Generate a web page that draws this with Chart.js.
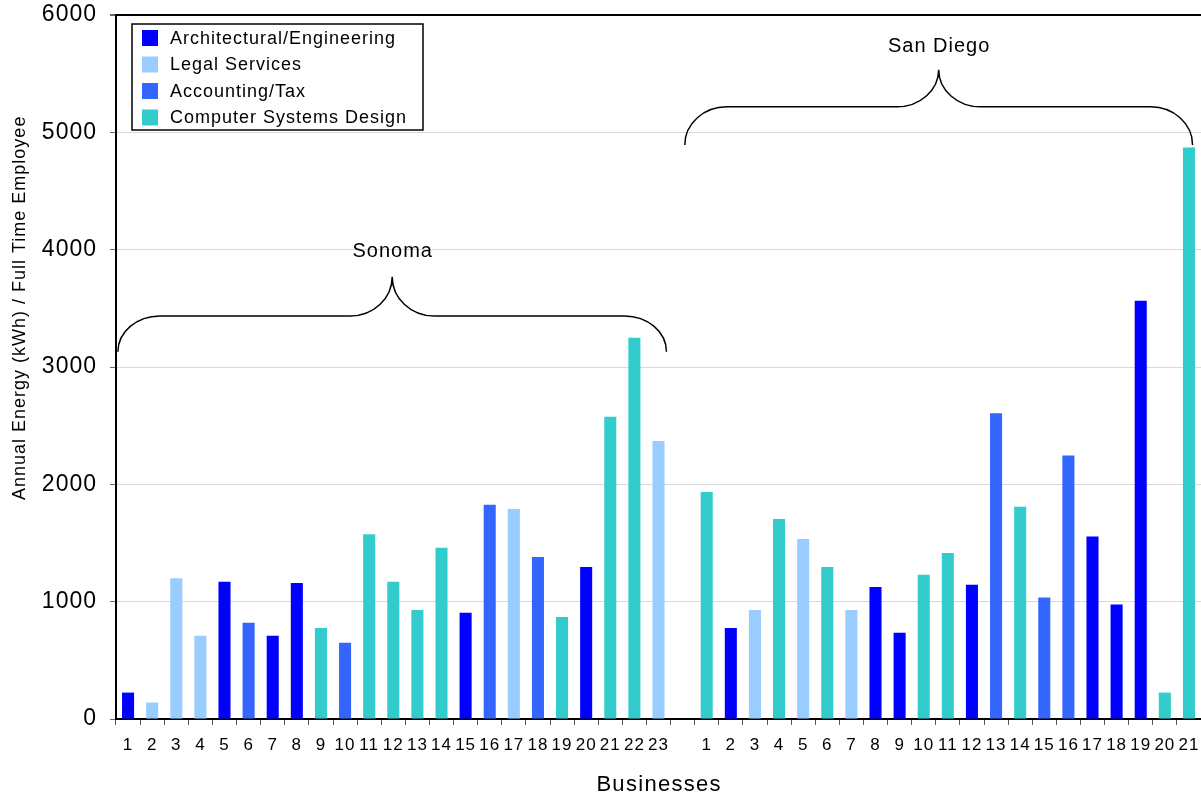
<!DOCTYPE html>
<html>
<head>
<meta charset="utf-8">
<title>Annual Energy per Full Time Employee</title>
<script src="https://cdn.jsdelivr.net/npm/chart.js@4.4.1/dist/chart.umd.min.js"></script>
<style>
  html, body { margin: 0; padding: 0; background: #fff; }
  #chart { display: block; }
</style>
</head>
<body>
<canvas id="chart" width="1201" height="796"></canvas>
<script>
// business types (legend order) and their colours
const businessTypes = ['Architectural/Engineering', 'Legal Services', 'Accounting/Tax', 'Computer Systems Design'];
const typeColors = ['#0000FF', '#99CCFF', '#3366FF', '#33CCCC'];

// Sonoma businesses 1..23
const sonomaLabels = ['1','2','3','4','5','6','7','8','9','10','11','12','13','14','15','16','17','18','19','20','21','22','23'];
const sonomaValues = [225, 140, 1200, 710, 1170, 820, 710, 1160, 775, 650, 1575, 1170, 930, 1460, 905, 1825, 1790, 1380, 870, 1295, 2575, 3250, 2370];
const sonomaTypes = [0, 1, 1, 1, 0, 2, 0, 0, 3, 2, 3, 3, 3, 3, 0, 2, 1, 2, 3, 0, 3, 3, 1];

// San Diego businesses 1..21
const sanDiegoLabels = ['1','2','3','4','5','6','7','8','9','10','11','12','13','14','15','16','17','18','19','20','21'];
const sanDiegoValues = [1935, 775, 930, 1705, 1535, 1295, 930, 1125, 735, 1230, 1415, 1145, 2605, 1810, 1035, 2245, 1555, 975, 3565, 225, 4870];
const sanDiegoTypes = [3, 0, 1, 3, 1, 3, 1, 0, 0, 3, 3, 0, 2, 3, 2, 2, 0, 0, 0, 3, 3];

const yTicks = [0, 1000, 2000, 3000, 4000, 5000, 6000];

// one empty category separates the two regions
const labels = [...sonomaLabels, '', ...sanDiegoLabels];
const allValues = [...sonomaValues, null, ...sanDiegoValues];
const allTypes = [...sonomaTypes, -1, ...sanDiegoTypes];

const datasets = businessTypes.map((name, t) => ({
  label: name,
  data: allValues.map((v, i) => allTypes[i] === t ? v : null),
  backgroundColor: typeColors[t],
  borderWidth: 0,
  grouped: false,
  categoryPercentage: 1,
  barPercentage: 0.5
}));

// region braces (x in category index units, y in data units)
const regionBraces = [
  { text: 'Sonoma', from: -0.42, to: 22.33, bottom: 3130, mid: 3435, peak: 3770, textAt: 3985 },
  { text: 'San Diego', from: 23.09, to: 44.15, bottom: 4893, mid: 5217, peak: 5533, textAt: 5729 }
];

const FONT = 'Liberation Sans, Arial, sans-serif';

function spacedText(ctx, text, x, y, size, spacing) {
  ctx.font = size + 'px ' + FONT;
  ctx.letterSpacing = spacing + 'px';
  const w = ctx.measureText(text).width - spacing;
  ctx.textAlign = 'left';
  ctx.textBaseline = 'middle';
  ctx.fillText(text, x - w / 2, y);
}

const bracePlugin = {
  id: 'braces',
  afterDatasetsDraw(chart) {
    const { ctx, scales: { x, y } } = chart;
    const p0 = x.getPixelForValue(0), p1 = x.getPixelForValue(1);
    const px = v => p0 + (p1 - p0) * v;
    const k = 0.552;
    ctx.save();
    ctx.strokeStyle = '#000';
    ctx.lineWidth = 1.5;
    regionBraces.forEach(b => {
      const x1 = px(b.from), x2 = px(b.to), xc = (x1 + x2) / 2;
      const yB = y.getPixelForValue(b.bottom), yM = y.getPixelForValue(b.mid), yP = y.getPixelForValue(b.peak);
      const r = 42, h1 = yB - yM, h2 = yM - yP;
      ctx.beginPath();
      ctx.moveTo(x1, yB);
      ctx.bezierCurveTo(x1, yB - k * h1, x1 + r * (1 - k), yM, x1 + r, yM);
      ctx.lineTo(xc - r, yM);
      ctx.bezierCurveTo(xc - r + k * r, yM, xc, yP + k * h2, xc, yP);
      ctx.bezierCurveTo(xc, yP + k * h2, xc + r - k * r, yM, xc + r, yM);
      ctx.lineTo(x2 - r, yM);
      ctx.bezierCurveTo(x2 - r * (1 - k), yM, x2, yB - k * h1, x2, yB);
      ctx.stroke();
      ctx.fillStyle = '#000';
      spacedText(ctx, b.text, xc, y.getPixelForValue(b.textAt), 20, 1);
    });
    ctx.restore();
  }
};

const legendBoxPlugin = {
  id: 'legendBox',
  beforeDraw(chart) {
    chart.ctx.letterSpacing = '1px';
  },
  afterDraw(chart) {
    const { ctx, chartArea, scales: { y } } = chart;
    const left = chartArea.left + 16, top = chartArea.top + 9;
    const w = 291, h = 106, row = 26.5;
    ctx.save();
    ctx.fillStyle = '#fff';
    ctx.fillRect(left, top, w, h);
    ctx.strokeStyle = '#000';
    ctx.lineWidth = 1.5;
    ctx.strokeRect(left, top, w, h);
    ctx.font = '18px ' + FONT;
    ctx.letterSpacing = '1px';
    ctx.textBaseline = 'middle';
    ctx.textAlign = 'left';
    chart.data.datasets.forEach((ds, i) => {
      const cy = top + 14 + i * row;
      ctx.fillStyle = ds.backgroundColor;
      ctx.fillRect(left + 10, cy - 8, 16, 16);
      ctx.fillStyle = '#000';
      ctx.fillText(ds.label, left + 38, cy + 1);
    });

    // axis titles
    ctx.fillStyle = '#000';
    spacedText(ctx, 'Businesses', (chartArea.left + chartArea.right) / 2, chartArea.bottom + 66, 22, 1.3);
    ctx.save();
    ctx.translate(20, y.getPixelForValue(3500));
    ctx.rotate(-Math.PI / 2);
    spacedText(ctx, 'Annual Energy (kWh) / Full Time Employee', 0, 0, 18, 1);
    ctx.restore();
    ctx.restore();
  }
};

new Chart(document.getElementById('chart'), {
  type: 'bar',
  data: { labels, datasets },
  plugins: [bracePlugin, legendBoxPlugin],
  options: {
    responsive: false,
    animation: false,
    layout: { padding: { top: 15, right: 0, left: 0, bottom: 0 } },
    plugins: {
      legend: { display: false },
      tooltip: { enabled: false }
    },
    scales: {
      x: {
        afterFit: s => { s.height = 77; s.paddingLeft = 0; s.paddingRight = 0; },
        grid: {
          offset: true,
          drawOnChartArea: false,
          tickLength: 6,
          color: '#555'
        },
        border: { color: '#000', width: 2 },
        ticks: {
          autoSkip: false,
          maxRotation: 0,
          padding: 10,
          color: '#000',
          font: { family: FONT, size: 17 }
        }
      },
      y: {
        min: 0,
        max: 6000,
        afterFit: s => { s.width = 116; s.paddingTop = 0; s.paddingBottom = 0; },
        afterBuildTicks: s => { s.ticks = yTicks.map(v => ({ value: v })); },
        grid: {
          color: c => c.tick && c.tick.value === 6000 ? '#000' : '#d9d9d9',
          lineWidth: c => c.tick && c.tick.value === 6000 ? 2 : 1,
          tickColor: '#666',
          tickLength: 6
        },
        border: { color: '#000', width: 2 },
        ticks: {
          padding: 13,
          color: '#000',
          font: { family: FONT, size: 23 },
          callback: v => String(v)
        }
      }
    }
  }
});
</script>
</body>
</html>
